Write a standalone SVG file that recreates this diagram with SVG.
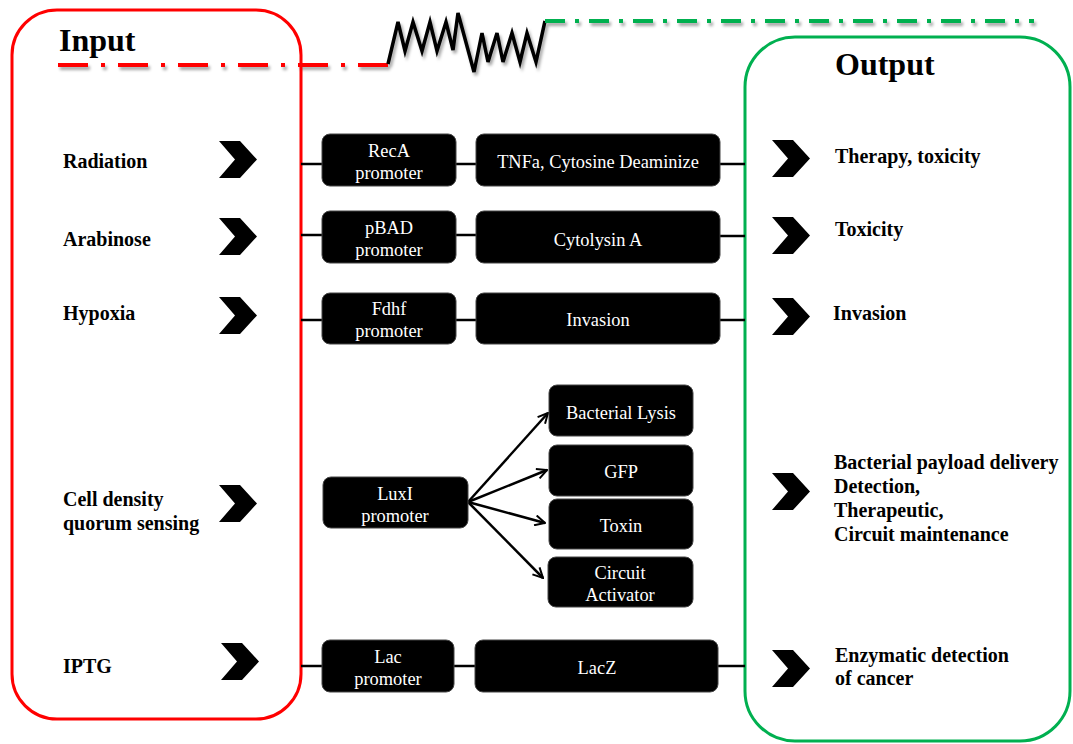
<svg xmlns="http://www.w3.org/2000/svg" width="1073" height="744" viewBox="0 0 1073 744">
<style>
.lbl{font-family:"Liberation Serif","Times New Roman",serif;font-weight:bold;font-size:20px;fill:#000}
.ttl{font-family:"Liberation Serif","Times New Roman",serif;font-weight:bold;font-size:32px;fill:#000}
.bx{fill:#000;stroke:#444;stroke-width:1}
.bt{font-family:"Liberation Serif","Times New Roman",serif;font-size:18.4px;fill:#fff;text-anchor:middle}
.ln{stroke:#000;stroke-width:2.5;fill:none}
.ar{stroke:#000;stroke-width:2.5;fill:none;marker-end:url(#arr)}
</style>
<defs>
<filter id="sh" x="-5%" y="-50%" width="110%" height="200%">
<feDropShadow dx="2" dy="3" stdDeviation="1.6" flood-color="#000" flood-opacity="0.35"/>
</filter>
<polygon id="chev" points="0,0 21,0 38,18.5 21,37 0,37 16,18.5" fill="#000"/>
<marker id="arr" viewBox="0 0 12 12" refX="11" refY="6" markerWidth="12" markerHeight="12" markerUnits="userSpaceOnUse" orient="auto">
<path d="M1,1 L11,6 L1,11" fill="none" stroke="#000" stroke-width="2"/>
</marker>
</defs>
<rect width="1073" height="744" fill="#fff"/>

<g id="header" filter="url(#sh)">
<line x1="58" y1="65" x2="388" y2="65" stroke="#ff0000" stroke-width="4" stroke-dasharray="30 13 4 13"/>
<polyline points="388,64 398,22 405,51 413,22 422,51 430,22 437,51 446,22 453,50 458,13 474,72 482,33 488,62 497,33 503,62 512,33 520,62 527,33 536,62 545,21" fill="none" stroke="#000" stroke-width="3.5" stroke-linejoin="miter"/>
<line x1="545" y1="21" x2="1034" y2="21" stroke="#00b050" stroke-width="4" stroke-dasharray="20 10 4 10"/>
</g>

<g id="input-box">
<rect x="12" y="10" width="289" height="709" rx="45" ry="45" fill="none" stroke="#ff0000" stroke-width="3"/>
<text class="ttl" x="59" y="51">Input</text>
</g>
<g id="output-box">
<rect x="745" y="37" width="325" height="704" rx="50" ry="50" fill="none" stroke="#00b050" stroke-width="3"/>
<text class="ttl" x="835" y="75">Output</text>
</g>

<g id="connectors">
<line class="ln" x1="301" y1="164" x2="322" y2="164"/>
<line class="ln" x1="456" y1="164" x2="476" y2="164"/>
<line class="ln" x1="720" y1="164" x2="745" y2="164"/>
<line class="ln" x1="301" y1="235" x2="322" y2="235"/>
<line class="ln" x1="456" y1="235" x2="476" y2="235"/>
<line class="ln" x1="720" y1="236" x2="745" y2="236"/>
<line class="ln" x1="301" y1="320" x2="322" y2="320"/>
<line class="ln" x1="456" y1="320" x2="476" y2="320"/>
<line class="ln" x1="720" y1="320" x2="745" y2="320"/>
<line class="ln" x1="301" y1="666" x2="322" y2="666"/>
<line class="ln" x1="454" y1="666" x2="475" y2="666"/>
<line class="ln" x1="718" y1="666" x2="745" y2="666"/>
<line class="ar" x1="468" y1="502" x2="548" y2="413"/>
<line class="ar" x1="468" y1="502" x2="547" y2="470"/>
<line class="ar" x1="468" y1="502" x2="545" y2="523"/>
<line class="ar" x1="468" y1="502" x2="543" y2="578"/>
</g>

<g id="in-radiation"><text class="lbl" x="63" y="168">Radiation</text><use href="#chev" x="219" y="141"/></g>
<g id="in-arabinose"><text class="lbl" x="63" y="246">Arabinose</text><use href="#chev" x="219" y="218"/></g>
<g id="in-hypoxia"><text class="lbl" x="63" y="320">Hypoxia</text><use href="#chev" x="219" y="297"/></g>
<g id="in-quorum"><text class="lbl" x="63" y="506">Cell density</text><text class="lbl" x="63" y="530">quorum sensing</text><use href="#chev" x="219" y="485"/></g>
<g id="in-iptg"><text class="lbl" x="63" y="673">IPTG</text><use href="#chev" x="221" y="643"/></g>

<g id="reca"><rect class="bx" x="322" y="134" width="134" height="52" rx="8"/><text class="bt" x="389" y="157">RecA</text><text class="bt" x="389" y="179">promoter</text></g>
<g id="tnfa"><rect class="bx" x="476" y="134" width="244" height="52" rx="8"/><text class="bt" x="598" y="168">TNFa, Cytosine Deaminize</text></g>
<g id="pbad"><rect class="bx" x="322" y="211" width="134" height="52" rx="8"/><text class="bt" x="389" y="234">pBAD</text><text class="bt" x="389" y="256">promoter</text></g>
<g id="cyta"><rect class="bx" x="476" y="211" width="244" height="52" rx="8"/><text class="bt" x="598" y="246">Cytolysin A</text></g>
<g id="fdhf"><rect class="bx" x="322" y="293" width="134" height="51" rx="8"/><text class="bt" x="389" y="315">Fdhf</text><text class="bt" x="389" y="337">promoter</text></g>
<g id="invasion"><rect class="bx" x="476" y="293" width="244" height="51" rx="8"/><text class="bt" x="598" y="326">Invasion</text></g>
<g id="luxi"><rect class="bx" x="323" y="477" width="145" height="51" rx="8"/><text class="bt" x="395" y="500">LuxI</text><text class="bt" x="395" y="522">promoter</text></g>
<g id="lysis"><rect class="bx" x="549" y="385" width="144" height="51" rx="8"/><text class="bt" x="621" y="419">Bacterial Lysis</text></g>
<g id="gfp"><rect class="bx" x="549" y="445" width="144" height="51" rx="8"/><text class="bt" x="621" y="478">GFP</text></g>
<g id="toxin"><rect class="bx" x="549" y="499" width="144" height="50" rx="8"/><text class="bt" x="621" y="532">Toxin</text></g>
<g id="activator"><rect class="bx" x="548" y="557" width="145" height="50" rx="8"/><text class="bt" x="620" y="579">Circuit</text><text class="bt" x="620" y="601">Activator</text></g>
<g id="lac"><rect class="bx" x="322" y="640" width="132" height="52" rx="8"/><text class="bt" x="388" y="663">Lac</text><text class="bt" x="388" y="685">promoter</text></g>
<g id="lacz"><rect class="bx" x="475" y="640" width="243" height="52" rx="8"/><text class="bt" x="597" y="674">LacZ</text></g>

<g id="out-therapy"><use href="#chev" x="772" y="140"/><text class="lbl" x="835" y="163">Therapy, toxicity</text></g>
<g id="out-toxicity"><use href="#chev" x="772" y="217"/><text class="lbl" x="835" y="236">Toxicity</text></g>
<g id="out-invasion"><use href="#chev" x="772" y="298"/><text class="lbl" x="833" y="320">Invasion</text></g>
<g id="out-payload"><use href="#chev" x="772" y="473"/>
<text class="lbl" x="834" y="469">Bacterial payload delivery</text>
<text class="lbl" x="834" y="493">Detection,</text>
<text class="lbl" x="834" y="517">Therapeutic,</text>
<text class="lbl" x="834" y="541">Circuit maintenance</text></g>
<g id="out-enzymatic"><use href="#chev" x="772" y="650"/><text class="lbl" x="835" y="662">Enzymatic detection</text><text class="lbl" x="835" y="685">of cancer</text></g>
</svg>
